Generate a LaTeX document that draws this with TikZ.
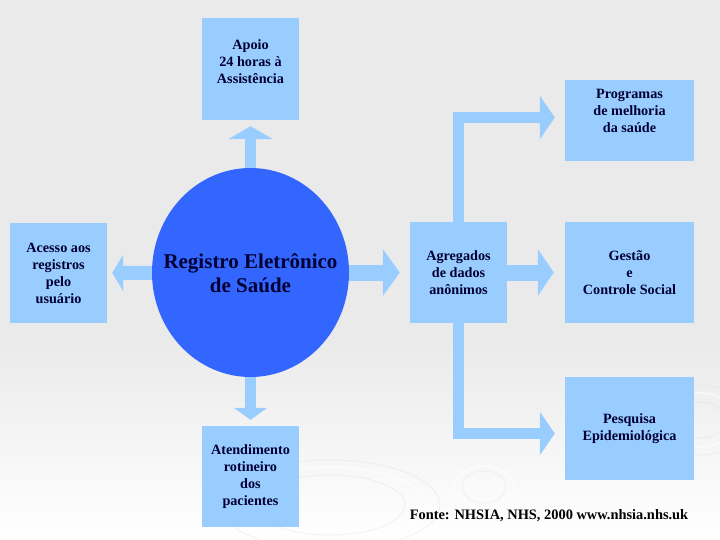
\documentclass[tikz,border=0pt]{standalone}
\usepackage{fontspec}
\setmainfont{Liberation Serif}
\usetikzlibrary{arrows.meta,calc,shapes.geometric}
\definecolor{boxblue}{HTML}{99CCFF}
\definecolor{circblue}{HTML}{3366FF}
\definecolor{txtnavy}{HTML}{000033}
\definecolor{bggray}{HTML}{EAEAEA}
\pgfdeclarelayer{bg}
\pgfdeclarelayer{arr}
\pgfsetlayers{bg,arr,main}
\begin{document}
\begin{tikzpicture}[x=1pt,y=-1pt,
  box/.style={fill=boxblue, draw=none, minimum width=97pt, minimum height=101pt, inner sep=0pt,
              text=txtnavy, font=\bfseries\fontsize{14.2}{17}\selectfont, align=center},
  wbox/.style={box, minimum width=129pt},
  lbl/.style={text=txtnavy, font=\bfseries\fontsize{14.2}{17}\selectfont, align=center},
  blockarrow/.style={draw=boxblue, line width=#1, line join=miter},
  ripple/.style={draw=white, line width=2pt, opacity=0.5},
  rippleg/.style={draw=gray!25, line width=1pt, opacity=0.35}
  ]
\useasboundingbox (0,0) rectangle (720,540);
\begin{pgfonlayer}{bg}
  \fill[bggray] (0,0) rectangle (720,340);
  \shade[top color=bggray, bottom color=white] (0,339) rectangle (720,540);
  % faint ripples
  \draw[rippleg] (330,505) ellipse (110 and 45);
  \draw[ripple]  (330,505) ellipse (95 and 38);
  \draw[rippleg] (330,505) ellipse (75 and 30);
  \draw[rippleg] (484,487) ellipse (22 and 16);
  \draw[ripple]  (484,487) ellipse (30 and 21);
  \draw[rippleg] (700,420) ellipse (50 and 35);
  \draw[ripple]  (700,420) ellipse (38 and 27);
  \draw[rippleg] (700,420) ellipse (25 and 18);
\end{pgfonlayer}

% nodes
\node[box, minimum height=102pt,
      label={[lbl, yshift=7.5pt]center:{Apoio\\24 horas à\\Assistência}}] (apoio) at (250.5,69) {};
\node[box, minimum height=100pt] (acesso) at (58.5,273) {Acesso aos\\registros\\pelo\\usuário};
\node[box] (atend) at (250.5,476.5) {Atendimento\\rotineiro\\dos\\pacientes};
\node[ellipse, fill=circblue, minimum width=197pt, minimum height=209pt, inner sep=0pt,
      label={[text=txtnavy, align=center, font=\bfseries\fontsize{21}{24}\selectfont, yshift=-1pt]center:{Registro Eletrônico\\de Saúde}}]
      (reg) at (250.5,272.5) {};
\node[box] (agr) at (458.5,272.5) {Agregados\\de dados\\anônimos};
\node[wbox, minimum height=81pt,
      label={[lbl, yshift=9.5pt]center:{Programas\\de melhoria\\da saúde}}] (prog) at (629.5,120.5) {};
\node[wbox] (gestao) at (629.5,272.5) {Gestão\\e\\Controle Social};
\node[wbox, minimum height=103pt] (pesq) at (629.5,428.5) {Pesquisa\\Epidemiológica};
\node[font=\bfseries\fontsize{14.4}{16}\selectfont, text=black] (fonte) at (549,516)
      {Fonte: NHSIA, NHS, 2000 www.nhsia.nhs.uk};

% arrows
\begin{pgfonlayer}{arr}
  \draw[blockarrow=11pt, -{Triangle[width=44pt,length=13pt]}, shorten >=6pt]
    (reg.center) -- (apoio.south);
  \draw[blockarrow=11pt, -{Triangle[width=33pt,length=12pt]}, shorten >=6pt]
    (reg.center) -- (atend.north);
  \draw[blockarrow=14pt, -{Triangle[width=36pt,length=11pt]}, shorten >=5pt]
    (reg.center) -- (acesso.east);
  \draw[blockarrow=16pt, -{Triangle[width=46pt,length=17pt]}, shorten >=10pt]
    (reg.center) -- (agr.west);
  \draw[blockarrow=16pt, -{Triangle[width=46pt,length=16pt]}, shorten >=11pt]
    (agr.center) -- (gestao.west);
  \draw[blockarrow=11pt, -{Triangle[width=43pt,length=15pt]}, shorten >=10pt]
    (agr.center) |- ($(prog.west)+(0,-3)$);
  \draw[blockarrow=11pt, -{Triangle[width=43pt,length=15pt]}, shorten >=10pt]
    (agr.center) |- ($(pesq.west)+(0,5)$);
\end{pgfonlayer}
\end{tikzpicture}
\end{document}
